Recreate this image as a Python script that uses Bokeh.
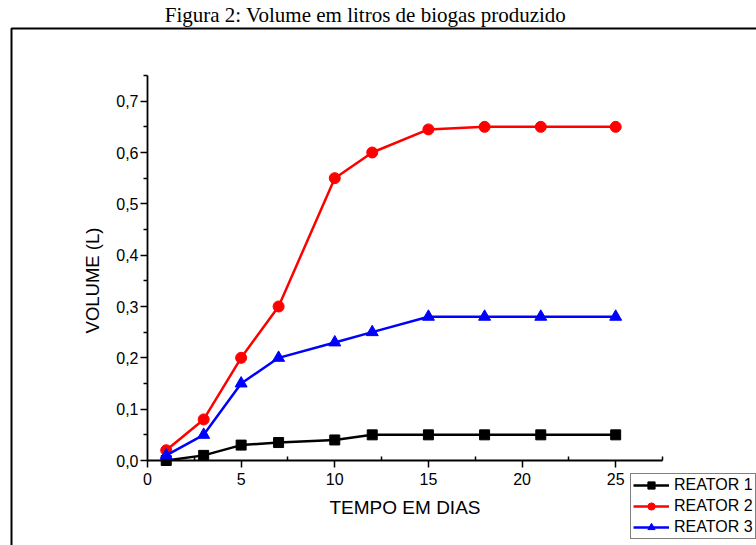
import math
from bokeh.plotting import figure
from bokeh.models import (Range1d, FixedTicker, CustomJSTickFormatter, Legend, LegendItem,
                          Label, BoxAnnotation)
from bokeh.embed import file_html
from bokeh.resources import INLINE

# ---- data ----
dias = [1, 3, 5, 7, 10, 12, 15, 18, 21, 25]
reator1 = [0.0, 0.01, 0.03, 0.035, 0.04, 0.05, 0.05, 0.05, 0.05, 0.05]
reator2 = [0.02, 0.08, 0.20, 0.30, 0.55, 0.60, 0.645, 0.65, 0.65, 0.65]
reator3 = [0.01, 0.05, 0.15, 0.20, 0.23, 0.25, 0.28, 0.28, 0.28, 0.28]
series_names = ["REATOR 1", "REATOR 2", "REATOR 3"]
x_ticks = [0, 5, 10, 15, 20, 25]
x_minor = [2.5, 7.5, 12.5, 17.5, 22.5, 27.5]
y_ticks = [0.0, 0.1, 0.2, 0.3, 0.4, 0.5, 0.6, 0.7]
y_minor = [0.05, 0.15, 0.25, 0.35, 0.45, 0.55, 0.65, 0.75]
x_axis_span = (0, 27.5)
y_axis_span = (0, 0.75)
title_text = "Figura 2: Volume em litros de biogas produzido"
x_label = "TEMPO EM DIAS"
y_label = "VOLUME (L)"

# ---- geometry (canvas pixels) ----
W, H = 756, 545
AX_L, AX_R, AX_T, AX_B = 147, 662, 75, 460   # where the axes' data box sits

# the plot frame covers the whole canvas; ranges chosen so that the axis box
# lands on the pixels above
sx = (AX_R - AX_L) / (x_axis_span[1] - x_axis_span[0])
sy = (AX_B - AX_T) / (y_axis_span[1] - y_axis_span[0])
x_range = Range1d(x_axis_span[0] - AX_L / sx, x_axis_span[1] + (W - AX_R) / sx)
y_range = Range1d(y_axis_span[0] - (H - AX_B) / sy, y_axis_span[1] + AX_T / sy)

p = figure(width=W, height=H, output_backend="svg", toolbar_location=None,
           x_range=x_range, y_range=y_range, title_location=None,
           min_border=0, min_border_left=0, min_border_right=0,
           min_border_top=0, min_border_bottom=0)
p.outline_line_color = None
p.xgrid.visible = False
p.ygrid.visible = False
p.background_fill_color = "white"
p.border_fill_color = "white"

font = "Liberation Sans"
# x axis
xa = p.xaxis[0]
xa.fixed_location = y_axis_span[0]
xa.bounds = x_axis_span
xa.ticker = FixedTicker(ticks=x_ticks, minor_ticks=x_minor)
xa.axis_line_width = 1.8
xa.major_tick_line_width = 1.5
xa.minor_tick_line_width = 1.5
xa.major_tick_out = 7
xa.major_tick_in = 0
xa.minor_tick_in = 4
xa.minor_tick_out = 0
xa.major_label_text_font = font
xa.major_label_text_font_size = "16px"
xa.major_label_text_color = "black"
xa.major_label_standoff = 5
xa.axis_label = x_label
xa.axis_label_text_font = font
xa.axis_label_text_font_size = "19px"
xa.axis_label_text_font_style = "normal"
xa.axis_label_text_color = "black"
xa.axis_label_standoff = 9

# y axis
ya = p.yaxis[0]
ya.fixed_location = x_axis_span[0]
ya.bounds = y_axis_span
ya.ticker = FixedTicker(ticks=y_ticks, minor_ticks=y_minor)
ya.formatter = CustomJSTickFormatter(code="return tick.toFixed(1).replace('.', ',');")
ya.axis_line_width = 1.8
ya.major_tick_line_width = 1.5
ya.minor_tick_line_width = 1.5
ya.major_tick_out = 7
ya.major_tick_in = 0
ya.minor_tick_out = 4
ya.minor_tick_in = 0
ya.major_label_text_font = font
ya.major_label_text_font_size = "16px"
ya.major_label_text_color = "black"
ya.major_label_standoff = 2

# y axis title placed like the source (slightly below the axis centre)
p.add_layout(Label(x=92, y=H - 280, x_units="screen", y_units="screen",
                   text=y_label, angle=math.pi / 2, text_font=font,
                   text_font_size="18.5px", text_align="center",
                   text_baseline="middle", text_color="black"))

# series
l1 = p.line(dias, reator1, line_color="black", line_width=2.5)
m1 = p.scatter(dias, reator1, marker="square", size=10, fill_color="black", line_color="black")
l2 = p.line(dias, reator2, line_color="#ff0000", line_width=2.5)
m2 = p.scatter(dias, reator2, marker="circle", size=11, fill_color="#ff0000", line_color="#ff0000")
l3 = p.line(dias, reator3, line_color="#0000ff", line_width=2.5)
m3 = p.scatter(dias, reator3, marker="triangle", size=12, fill_color="#0000ff", line_color="#0000ff")

legend = Legend(items=[LegendItem(label=series_names[0], renderers=[l1, m1]),
                       LegendItem(label=series_names[1], renderers=[l2, m2]),
                       LegendItem(label=series_names[2], renderers=[l3, m3])],
                location=(630, H - 539),
                label_text_font=font, label_text_font_size="16px",
                label_text_color="black",
                glyph_width=36, glyph_height=18, label_height=18,
                spacing=3, padding=2, margin=0, label_standoff=5,
                border_line_color="black", border_line_width=1,
                background_fill_color="white", background_fill_alpha=1)
p.add_layout(legend, "center")

# page title
p.add_layout(Label(x=365, y=H - 14.5, x_units="screen", y_units="screen",
                   text=title_text, text_font="Liberation Serif", text_font_size="21px",
                   text_align="center", text_baseline="alphabetic", text_color="black"))

# page frame (runs off the right and bottom edges, as in the source)
p.add_layout(BoxAnnotation(left=11, right=W + 60, top=H - 28, bottom=-60,
                           left_units="screen", right_units="screen",
                           top_units="screen", bottom_units="screen",
                           fill_alpha=0, line_color="black", line_alpha=1.0,
                           line_width=2, level="underlay"))

open("out.html", "w").write(file_html(p, INLINE))
